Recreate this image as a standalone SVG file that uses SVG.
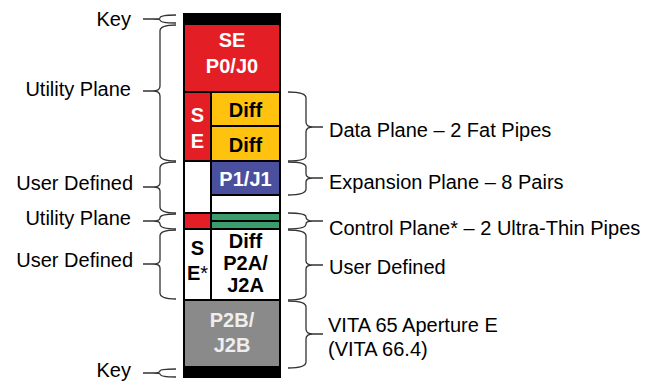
<svg xmlns="http://www.w3.org/2000/svg" width="649" height="381" viewBox="0 0 649 381">
<style>
.lbl{font-family:"Liberation Sans",Arial,sans-serif;font-size:20px;fill:#000}
.end{text-anchor:end}
.cell{font-family:"Liberation Sans",Arial,sans-serif;font-size:20px;font-weight:bold;text-anchor:middle}
.w{fill:#fff}.k{fill:#000}.lg{fill:#eeeeee}
.box{stroke:#000;stroke-width:2}
.brace{fill:none;stroke:#333;stroke-width:1.3}
</style>
<rect width="649" height="381" fill="#fff"/>
<g id="col">
<rect id="key-top" class="box" x="184" y="14" width="96" height="10" fill="#000"/>
<g id="p0"><rect class="box" x="184" y="24" width="96" height="68" fill="#e31e24"/>
<text class="cell w" x="232" y="47">SE</text><text class="cell w" x="232" y="73">P0/J0</text></g>
<g id="se1"><rect class="box" x="184" y="92" width="27" height="69" fill="#e31e24"/>
<text class="cell w" x="197.5" y="122">S</text><text class="cell w" x="197.5" y="148">E</text></g>
<g id="diff1"><rect class="box" x="211" y="92" width="69" height="34" fill="#ffc20e"/><text class="cell k" x="245.5" y="117">Diff</text></g>
<g id="diff2"><rect class="box" x="211" y="126" width="69" height="35" fill="#ffc20e"/><text class="cell k" x="245.5" y="152">Diff</text></g>
<g id="ud1"><rect class="box" x="184" y="161" width="27" height="52" fill="#fff"/></g>
<g id="p1"><rect class="box" x="211" y="161" width="69" height="34" fill="#4a4f9e"/><text class="cell w" x="245.5" y="186">P1/J1</text></g>
<g id="exp-blank"><rect class="box" x="211" y="195" width="69" height="18" fill="#fff"/></g>
<g id="util2"><rect class="box" x="184" y="213" width="27" height="16" fill="#e31e24"/></g>
<g id="ctrl"><rect class="box" x="211" y="213" width="69" height="8" fill="#3a9e6c"/><rect class="box" x="211" y="221" width="69" height="8" fill="#3a9e6c"/></g>
<g id="se2"><rect class="box" x="184" y="229" width="27" height="71" fill="#fff"/>
<text class="cell k" x="197.5" y="255">S</text><text class="cell k" x="197.5" y="280">E<tspan font-weight="normal">*</tspan></text></g>
<g id="p2a"><rect class="box" x="211" y="229" width="69" height="71" fill="#fff"/>
<text class="cell k" x="245.5" y="248">Diff</text><text class="cell k" x="245.5" y="270">P2A/</text><text class="cell k" x="245.5" y="292">J2A</text></g>
<g id="p2b"><rect class="box" x="184" y="300" width="96" height="67" fill="#8a8a8a"/>
<text class="cell lg" x="232" y="327">P2B/</text><text class="cell lg" x="232" y="352">J2B</text></g>
<rect id="key-bot" class="box" x="184" y="367" width="96" height="10" fill="#000"/>
</g>
<g id="connectors">
<path class="brace" d="M176,15 Q160,15 160,18 Q160,19 152,19 H143 M152,19 Q160,19 160,20 Q160,23 176,23"/>
<path class="brace" d="M176,25 Q160,25 160,31 V86 Q160,91 153,91 H143 M153,91 Q160,91 160,96 V155 Q160,161 176,161"/>
<path class="brace" d="M176,162 Q160,162 160,168 V183 Q160,187 153,187 H143 M153,187 Q160,187 160,191 V207 Q160,213 176,213"/>
<path class="brace" d="M176,214 Q160,214 160,218 Q160,221 153,221 H143 M153,221 Q160,221 160,224 Q160,229 176,229"/>
<path class="brace" d="M176,230 Q160,230 160,236 V260 Q160,264 153,264 H143 M153,264 Q160,264 160,268 V293 Q160,299 176,299"/>
<path class="brace" d="M176,369 Q160,369 160,371 Q160,373 152,373 H143 M152,373 Q160,373 160,374 Q160,377 176,377"/>
<path class="brace" d="M288,92 Q306,92 306,98 V122 Q306,127 313,127 H323 M313,127 Q306,127 306,132 V156 Q306,161 288,161"/>
<path class="brace" d="M288,162 Q306,162 306,167 V174 Q306,178 313,178 H323 M313,178 Q306,178 306,182 V189 Q306,195 288,195"/>
<path class="brace" d="M288,213 Q306,213 306,217 Q306,221 313,221 H323 M313,221 Q306,221 306,224 Q306,229 288,229"/>
<path class="brace" d="M288,230 Q306,230 306,236 V261 Q306,265 313,265 H323 M313,265 Q306,265 306,269 V294 Q306,300 288,300"/>
<path class="brace" d="M288,301 Q306,301 306,307 V329 Q306,334 313,334 H323 M313,334 Q306,334 306,339 V362 Q306,368 288,368"/>
</g>
<g id="labels-left">
<text class="lbl end" x="131" y="26">Key</text>
<text class="lbl end" x="131" y="96">Utility Plane</text>
<text class="lbl end" x="133" y="190">User Defined</text>
<text class="lbl end" x="131" y="225">Utility Plane</text>
<text class="lbl end" x="133" y="267">User Defined</text>
<text class="lbl end" x="131" y="377">Key</text>
</g>
<g id="labels-right">
<text class="lbl" x="329" y="137">Data Plane – 2 Fat Pipes</text>
<text class="lbl" x="329" y="189">Expansion Plane – 8 Pairs</text>
<text class="lbl" x="329" y="235">Control Plane* – 2 Ultra-Thin Pipes</text>
<text class="lbl" x="329" y="274">User Defined</text>
<text class="lbl" x="328" y="332">VITA 65 Aperture E</text>
<text class="lbl" x="328" y="356">(VITA 66.4)</text>
</g>
</svg>
